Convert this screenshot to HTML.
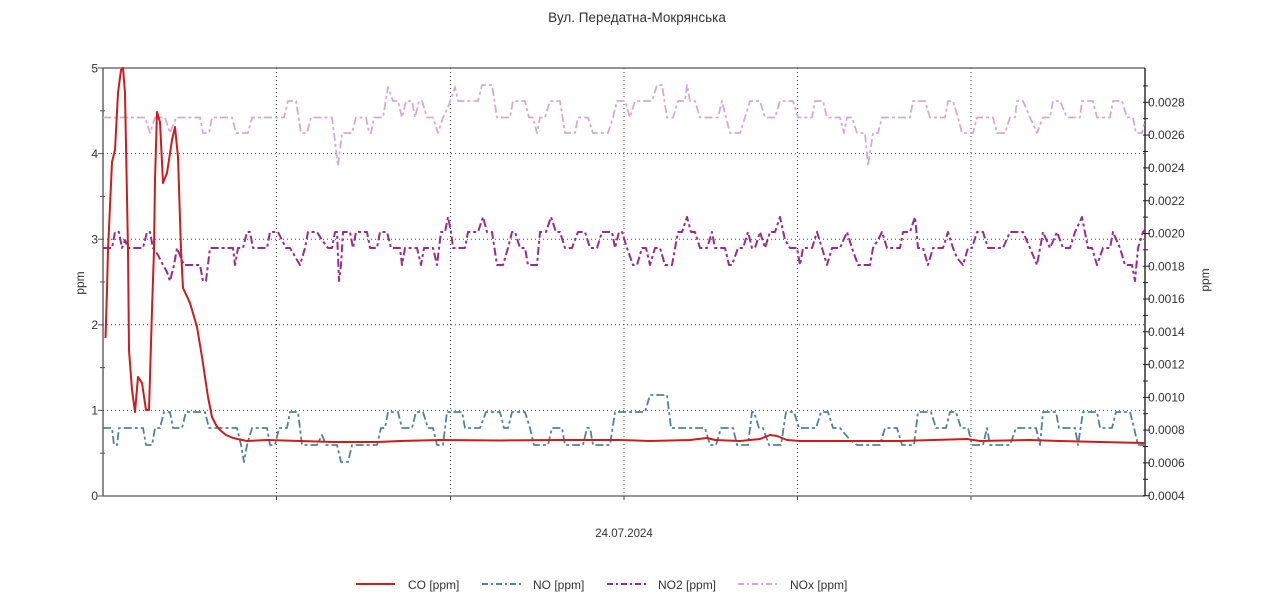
<!DOCTYPE html>
<html>
<head>
<meta charset="utf-8">
<style>
html,body{margin:0;padding:0;background:#fff;}
svg{display:block;}
text{font-family:"Liberation Sans","DejaVu Sans",sans-serif;fill:#333;}
</style>
</head>
<body>
<svg width="1280" height="606" viewBox="0 0 1280 606" xmlns="http://www.w3.org/2000/svg">
<rect width="1280" height="606" fill="#fff"/>
<text x="637" y="22" font-size="13.5" text-anchor="middle">Вул. Передатна-Мокрянська</text>

<!-- grid -->
<g stroke="#444" stroke-width="1" stroke-dasharray="1,3" fill="none">
<line x1="103" y1="410.4" x2="1145" y2="410.4"/>
<line x1="103" y1="324.8" x2="1145" y2="324.8"/>
<line x1="103" y1="239.2" x2="1145" y2="239.2"/>
<line x1="103" y1="153.6" x2="1145" y2="153.6"/>
<line x1="276.5" y1="68" x2="276.5" y2="499"/>
<line x1="450.5" y1="68" x2="450.5" y2="499"/>
<line x1="624" y1="68" x2="624" y2="499"/>
<line x1="797.5" y1="68" x2="797.5" y2="499"/>
<line x1="971" y1="68" x2="971" y2="499"/>
</g>

<!-- axes -->
<line x1="103" y1="68" x2="1145" y2="68" stroke="#555" stroke-width="1.3"/>
<line x1="103" y1="496" x2="1145" y2="496" stroke="#777" stroke-width="1.5"/>
<line x1="103" y1="68" x2="103" y2="496" stroke="#666" stroke-width="1.5"/>
<line x1="1145" y1="68" x2="1145" y2="496" stroke="#111" stroke-width="1.3"/>

<!-- left ticks -->
<g stroke="#555" stroke-width="1">
<line x1="98" y1="496" x2="104" y2="496"/>
<line x1="98" y1="410.4" x2="104" y2="410.4"/>
<line x1="98" y1="324.8" x2="104" y2="324.8"/>
<line x1="98" y1="239.2" x2="104" y2="239.2"/>
<line x1="98" y1="153.6" x2="104" y2="153.6"/>
<line x1="98" y1="68" x2="104" y2="68"/>
<line x1="100" y1="453.2" x2="105" y2="453.2"/>
<line x1="100" y1="367.6" x2="105" y2="367.6"/>
<line x1="100" y1="282" x2="105" y2="282"/>
<line x1="100" y1="196.4" x2="105" y2="196.4"/>
<line x1="100" y1="110.8" x2="105" y2="110.8"/>
</g>
<g font-size="12" text-anchor="end">
<text x="98" y="500">0</text>
<text x="98" y="414.5">1</text>
<text x="98" y="329">2</text>
<text x="98" y="243.5">3</text>
<text x="98" y="158">4</text>
<text x="98" y="72.5">5</text>
</g>
<text transform="translate(84,283) rotate(-90)" font-size="12" text-anchor="middle">ppm</text>

<!-- right ticks -->
<g stroke="#222" stroke-width="1">
<line x1="1143" y1="495.7" x2="1150" y2="495.7"/>
<line x1="1143" y1="479.3" x2="1148" y2="479.3"/>
<line x1="1143" y1="462.9" x2="1150" y2="462.9"/>
<line x1="1143" y1="446.5" x2="1148" y2="446.5"/>
<line x1="1143" y1="430.1" x2="1150" y2="430.1"/>
<line x1="1143" y1="413.7" x2="1148" y2="413.7"/>
<line x1="1143" y1="397.4" x2="1150" y2="397.4"/>
<line x1="1143" y1="381" x2="1148" y2="381"/>
<line x1="1143" y1="364.6" x2="1150" y2="364.6"/>
<line x1="1143" y1="348.2" x2="1148" y2="348.2"/>
<line x1="1143" y1="331.8" x2="1150" y2="331.8"/>
<line x1="1143" y1="315.4" x2="1148" y2="315.4"/>
<line x1="1143" y1="299" x2="1150" y2="299"/>
<line x1="1143" y1="282.6" x2="1148" y2="282.6"/>
<line x1="1143" y1="266.2" x2="1150" y2="266.2"/>
<line x1="1143" y1="249.8" x2="1148" y2="249.8"/>
<line x1="1143" y1="233.5" x2="1150" y2="233.5"/>
<line x1="1143" y1="217.1" x2="1148" y2="217.1"/>
<line x1="1143" y1="200.7" x2="1150" y2="200.7"/>
<line x1="1143" y1="184.3" x2="1148" y2="184.3"/>
<line x1="1143" y1="167.9" x2="1150" y2="167.9"/>
<line x1="1143" y1="151.5" x2="1148" y2="151.5"/>
<line x1="1143" y1="135.1" x2="1150" y2="135.1"/>
<line x1="1143" y1="118.7" x2="1148" y2="118.7"/>
<line x1="1143" y1="102.3" x2="1150" y2="102.3"/>
<line x1="1143" y1="85.9" x2="1148" y2="85.9"/>
</g>
<g font-size="12">
<text x="1148" y="500">0.0004</text>
<text x="1148" y="467">0.0006</text>
<text x="1148" y="434.2">0.0008</text>
<text x="1148" y="401.5">0.0010</text>
<text x="1148" y="368.7">0.0012</text>
<text x="1148" y="335.9">0.0014</text>
<text x="1148" y="303.1">0.0016</text>
<text x="1148" y="270.3">0.0018</text>
<text x="1148" y="237.6">0.0020</text>
<text x="1148" y="204.8">0.0022</text>
<text x="1148" y="172">0.0024</text>
<text x="1148" y="139.2">0.0026</text>
<text x="1148" y="106.4">0.0028</text>
</g>
<text transform="translate(1209,280) rotate(-90)" font-size="12" text-anchor="middle">ppm</text>

<!-- bottom ticks -->
<g stroke="#444" stroke-width="1">
<line x1="276.5" y1="496" x2="276.5" y2="500"/>
<line x1="450.5" y1="496" x2="450.5" y2="500"/>
<line x1="624" y1="496" x2="624" y2="500"/>
<line x1="797.5" y1="496" x2="797.5" y2="500"/>
<line x1="971" y1="496" x2="971" y2="500"/>
</g>
<text x="624" y="537" font-size="11.5" text-anchor="middle">24.07.2024</text>

<defs><clipPath id="pc"><rect x="103" y="66" width="1042" height="430"/></clipPath></defs>
<g clip-path="url(#pc)" fill="none" stroke-linejoin="round">
<!-- NOx -->
<polyline stroke="#d7a9d2" stroke-width="1.8" stroke-dasharray="8,3,3,3" points="103,117.5 145,117.5 150,133 155,117.5 165,117.5 170,133 176,117.5 200,117.5 203,133 209,133 212,117.5 232,117.5 236,133 248,133 252,117.5 284,117.5 288,101 296,101 301,133 307,133 311,117.5 332,117.5 338,166 342,133 352,133 356,117.5 366,117.5 369,133 371,133 374,117.5 383,117.5 388,87 393,101 398,101 402,117.5 406,101 412,101 415,117.5 419,101 422,101 427,117.5 433,117.5 438,133 443,117.5 448,107 455,87 458,101 478,101 482,85 492,85 497,117.5 510,117.5 513,101 525,101 529,117.5 533,117.5 537,133 540,117.5 545,117.5 550,101 560,101 565,133 575,133 578,117.5 588,117.5 593,133 608,133 613,117.5 617,101 625,101 630,117.5 635,101 652,101 657,85 662,85 667,117.5 673,117.5 678,101 685,101 687,85 690,101 695,101 700,117.5 718,117.5 722,101 726,117.5 730,133 740,133 745,117.5 750,101 760,101 765,117.5 775,117.5 780,101 793,101 798,117.5 812,117.5 815,101 823,101 827,117.5 840,117.5 844,133 847,117.5 852,117.5 857,133 865,133 868,166 873,133 878,133 882,117.5 910,117.5 913,101 925,101 930,117.5 945,117.5 948,101 953,101 958,117.5 962,133 973,133 977,117.5 993,117.5 997,133 1005,133 1010,117.5 1015,117.5 1017,101 1023,101 1030,117.5 1037,133 1043,117.5 1050,117.5 1053,101 1060,101 1067,117.5 1080,117.5 1082,101 1093,101 1097,117.5 1110,117.5 1113,101 1122,101 1127,117.5 1133,117.5 1136,133 1142,133 1145,120"/>
<!-- NO2 -->
<polyline stroke="#9a2b8c" stroke-width="2" stroke-dasharray="8,3,3,3" points="103,248 112,248 115,232 119,232 122,248 125,240 128,248 143,248 147,232 150,232 153,248 158,255 163,265 167,272 170,281 174,265 177,248 181,258 184,265 200,265 203,281 206,281 210,248 233,248 235,265 238,248 243,248 247,232 250,232 253,248 267,248 270,232 278,232 282,240 286,248 290,248 300,265 305,248 308,232 317,232 322,240 328,248 332,248 335,232 337,232 339,281 341,265 343,232 350,232 353,248 356,232 367,232 370,248 377,248 380,232 387,232 391,248 400,248 402,265 405,248 417,248 421,265 424,248 433,248 437,265 441,232 445,232 448,217 451,232 453,248 465,248 468,232 478,232 483,217 487,232 492,232 497,265 503,265 508,248 512,232 515,232 520,248 525,248 528,265 537,265 540,232 546,232 551,217 556,232 560,232 565,248 572,248 578,232 585,232 590,248 597,248 602,232 612,232 615,248 619,232 622,232 627,248 633,265 637,265 642,248 646,248 650,265 655,248 660,248 665,265 672,265 678,232 682,232 687,217 691,232 695,232 700,248 707,248 712,232 715,248 725,248 729,265 732,265 738,248 743,248 748,232 752,248 755,248 760,232 765,248 770,232 775,232 780,217 785,240 790,248 797,248 800,265 803,248 812,248 817,232 822,248 827,265 832,248 840,248 847,232 852,248 858,265 870,265 873,248 878,240 882,232 887,248 900,248 903,232 910,232 915,217 918,248 923,248 928,265 933,248 943,248 948,232 953,248 957,258 963,265 968,248 972,248 977,232 983,232 988,248 1003,248 1010,232 1023,232 1030,248 1037,265 1043,232 1050,248 1057,232 1063,248 1070,248 1075,232 1082,217 1088,248 1092,248 1097,265 1103,248 1110,248 1113,232 1120,248 1125,265 1132,265 1135,281 1138,248 1143,232 1145,230"/>
<!-- NO -->
<polyline stroke="#4f8399" stroke-width="1.8" stroke-dasharray="8,3,3,3" points="103,428 112,428 114,445 117,445 119,428 143,428 146,445 152,445 155,428 160,428 164,412 170,412 173,428 182,428 186,412 205,412 209,428 237,428 241,445 244,462 247,445 252,428 267,428 270,445 275,445 279,428 287,428 290,412 298,412 302,445 317,445 322,435 326,445 337,445 341,462 348,462 352,445 377,445 381,428 385,428 388,412 398,412 402,428 412,428 416,412 423,412 428,428 433,428 437,445 443,445 447,412 462,412 465,428 480,428 486,412 500,412 504,428 508,428 512,412 525,412 530,428 534,445 537,445 548,445 552,428 562,428 565,445 583,445 587,428 590,428 593,445 610,445 615,412 645,412 650,395 667,395 671,428 705,428 710,445 716,445 721,428 733,428 737,445 748,445 752,412 754,412 759,428 763,428 769,445 781,445 786,412 794,412 799,428 816,428 821,412 828,412 833,428 840,428 850,440 857,445 880,445 885,428 897,428 902,445 914,445 918,412 931,412 936,428 946,428 950,412 956,412 961,428 968,428 972,445 983,445 987,428 990,445 1010,445 1016,428 1036,428 1040,445 1043,412 1056,412 1059,428 1075,428 1078,445 1083,412 1097,412 1100,428 1112,428 1116,412 1130,412 1134,428 1138,445 1145,445"/>
<!-- CO -->
<polyline stroke="#cc1c1c" stroke-width="2" points="105.5,338 107,290 108,250 112,162 115,150 118,93 121,70 123,68 125,93 128,250 129,350 132,390 135,412 138,377 142,383 146,410 149,410 152,310 154,250 155,180 157,112 160,122 163,183 167,173 172,140 175,127 178,157 181,250 183,288 190,303 197,327 202,357 208,397 212,417 216,425 220,430 226,435 233,438 247,441 267,440 300,441 333,442 377,442 400,441 440,440 500,440.5 560,440 620,440 650,441 690,440 707,438 715,440 740,441 760,439 770,435 777,436 787,440 800,441 850,441 900,441 967,439 980,441 1030,440 1060,441 1100,442 1145,443"/>
</g>

<!-- legend -->
<g fill="none" stroke-width="2">
<line x1="356" y1="584" x2="395" y2="584" stroke="#cc1c1c"/>
<line x1="482" y1="584" x2="522" y2="584" stroke="#4f8399" stroke-dasharray="6,3,2,3"/>
<line x1="607" y1="584" x2="646" y2="584" stroke="#9a2b8c" stroke-dasharray="6,3,2,3"/>
<line x1="738" y1="584" x2="777" y2="584" stroke="#d7a9d2" stroke-dasharray="6,3,2,3"/>
</g>
<g font-size="12">
<text x="408" y="589">CO [ppm]</text>
<text x="533" y="589">NO [ppm]</text>
<text x="658" y="589">NO2 [ppm]</text>
<text x="790" y="589">NOx [ppm]</text>
</g>
</svg>
</body>
</html>
